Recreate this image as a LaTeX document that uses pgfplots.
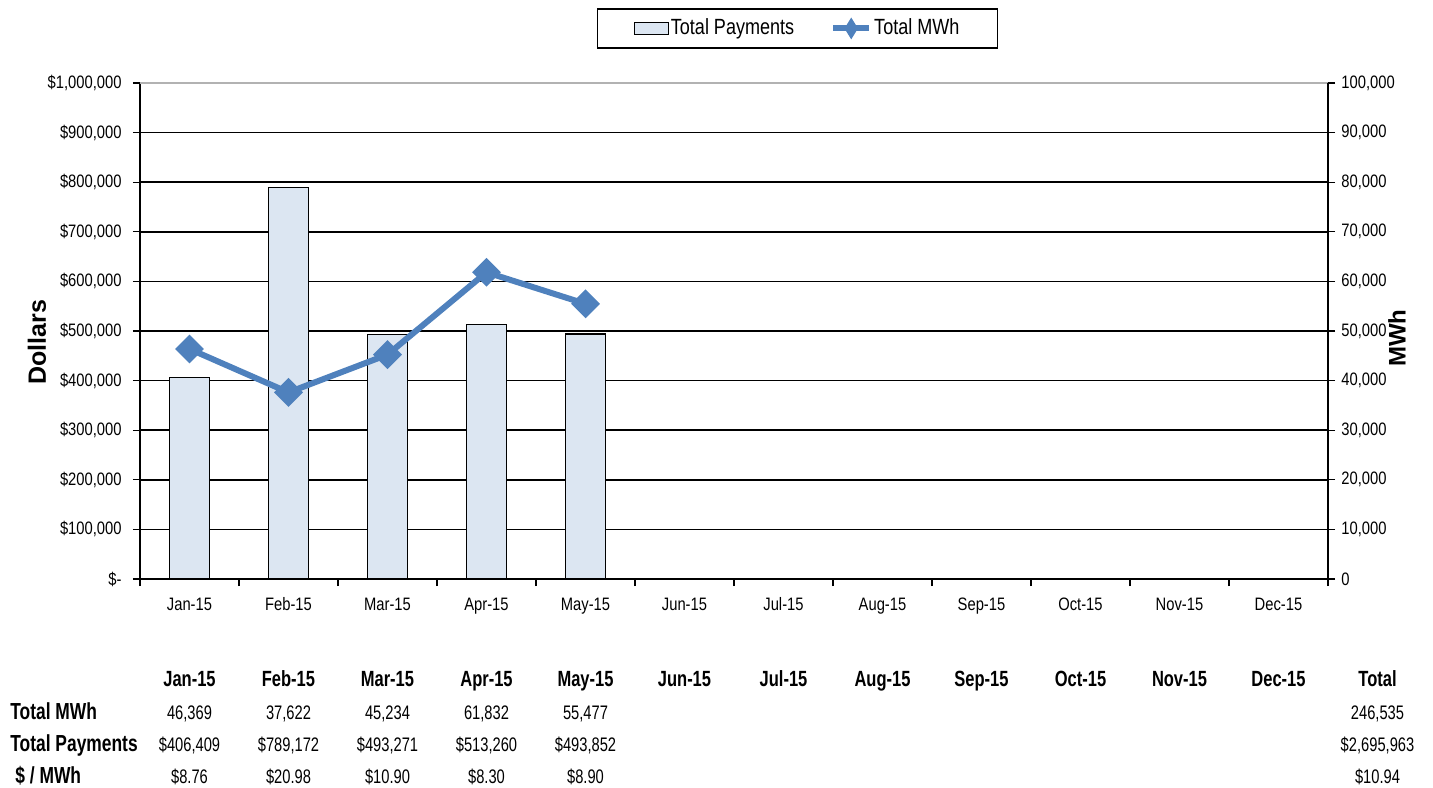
\documentclass[border=0pt]{standalone}
\usepackage{pgfplots}
\pgfplotsset{compat=1.18}
\usepackage{fontspec}
\setmainfont{Liberation Sans}[FakeStretch=0.82]
\newfontfamily\titlefont{Liberation Sans}
\newfontfamily\tbl{Liberation Sans}[FakeStretch=0.75]
\definecolor{barfill}{HTML}{DCE6F2}
\definecolor{linec}{HTML}{4F81BD}
\newcommand\tickfont{\fontsize{9}{11}\selectfont}
\newcommand\hdrfont{\tbl\bfseries\fontsize{11}{13}\selectfont}
\newcommand\valfont{\tbl\fontsize{9.8}{12}\selectfont}
\newcommand\rowfont{\tbl\bfseries\fontsize{11.6}{13}\selectfont}
\tikzset{hdr/.style={font=\hdrfont, anchor=base, inner sep=0pt, yshift=-53.75pt},
  rA/.style={font=\valfont, anchor=base, inner sep=0pt, yshift=-70pt},
  rB/.style={font=\valfont, anchor=base, inner sep=0pt, yshift=-86pt},
  rC/.style={font=\valfont, anchor=base, inner sep=0pt, yshift=-102pt}}
\begin{document}
\begin{tikzpicture}
\path[use as bounding box] (-70pt,-104pt) rectangle (646.5pt,289.5pt);
\begin{axis}[
  at={(0,0)}, anchor=south west, scale only axis,
  width=594pt, height=248pt,
  xmin=-0.5, xmax=11.5, ymin=0, ymax=1000000,
  clip=false, scaled y ticks=false,
  axis x line*=bottom, axis y line*=left,
  axis line style={-, black, line width=0.75pt},
  tick align=outside,
  xtick={-0.5,0.5,1.5,2.5,3.5,4.5,5.5,6.5,7.5,8.5,9.5,10.5,11.5},
  x tick label as interval,
  xticklabels={Jan-15,Feb-15,Mar-15,Apr-15,May-15,Jun-15,Jul-15,Aug-15,Sep-15,Oct-15,Nov-15,Dec-15},
  xticklabel style={font=\tickfont, anchor=base, inner sep=0pt, yshift=-12pt},
  x tick style={black, line width=0.6pt},
  major tick length=3.5pt,
  ytick={0,100000,200000,300000,400000,500000,600000,700000,800000,900000},
  yticklabels={\$-,{\$100,000},{\$200,000},{\$300,000},{\$400,000},{\$500,000},{\$600,000},{\$700,000},{\$800,000},{\$900,000}},
  extra y ticks={1000000},
  extra y tick labels={\$1{,}000{,}000},
  extra y tick style={major grid style={gray!60, line width=0.75pt}},
  yticklabel style={font=\tickfont, anchor=east, inner sep=0pt, xshift=-5.5pt},
  y tick style={black, line width=0.6pt},
  ymajorgrids,
  major grid style={black, line width=0.75pt},
  every axis y label/.style={at={(axis description cs:0,0.5)}, rotate=90, anchor=center, yshift=51.5pt, xshift=-5.5pt},
  ylabel={\titlefont\bfseries\fontsize{12.5}{14}\selectfont Dollars},
]
\addplot[ybar, bar width=20pt, fill=barfill, draw=black, line width=0.6pt]
  coordinates {(0,406409) (1,789172) (2,493271) (3,513260) (4,493852)};

% data table below the chart
\node[hdr] at (axis cs:0,0) {Jan-15};
\node[hdr] at (axis cs:1,0) {Feb-15};
\node[hdr] at (axis cs:2,0) {Mar-15};
\node[hdr] at (axis cs:3,0) {Apr-15};
\node[hdr] at (axis cs:4,0) {May-15};
\node[hdr] at (axis cs:5,0) {Jun-15};
\node[hdr] at (axis cs:6,0) {Jul-15};
\node[hdr] at (axis cs:7,0) {Aug-15};
\node[hdr] at (axis cs:8,0) {Sep-15};
\node[hdr] at (axis cs:9,0) {Oct-15};
\node[hdr] at (axis cs:10,0) {Nov-15};
\node[hdr] at (axis cs:11,0) {Dec-15};
\node[hdr] at (axis cs:12,0) {Total};

\node[font=\rowfont, anchor=base west, inner sep=0pt, xshift=-65pt, yshift=-70pt] at (axis cs:-0.5,0) {Total MWh};
\node[font=\rowfont, anchor=base west, inner sep=0pt, xshift=-65pt, yshift=-86pt] at (axis cs:-0.5,0) {Total Payments};
\node[font=\rowfont, anchor=base west, inner sep=0pt, xshift=-62.5pt, yshift=-102pt] at (axis cs:-0.5,0) {\$ / MWh};

\node[rA] at (axis cs:0,0) {46,369};
\node[rA] at (axis cs:1,0) {37,622};
\node[rA] at (axis cs:2,0) {45,234};
\node[rA] at (axis cs:3,0) {61,832};
\node[rA] at (axis cs:4,0) {55,477};
\node[rA] at (axis cs:12,0) {246,535};

\node[rB] at (axis cs:0,0) {\$406,409};
\node[rB] at (axis cs:1,0) {\$789,172};
\node[rB] at (axis cs:2,0) {\$493,271};
\node[rB] at (axis cs:3,0) {\$513,260};
\node[rB] at (axis cs:4,0) {\$493,852};
\node[rB] at (axis cs:12,0) {\$2,695,963};

\node[rC] at (axis cs:0,0) {\$8.76};
\node[rC] at (axis cs:1,0) {\$20.98};
\node[rC] at (axis cs:2,0) {\$10.90};
\node[rC] at (axis cs:3,0) {\$8.30};
\node[rC] at (axis cs:4,0) {\$8.90};
\node[rC] at (axis cs:12,0) {\$10.94};
\end{axis}

\begin{axis}[
  at={(0,0)}, anchor=south west, scale only axis,
  width=594pt, height=248pt,
  xmin=-0.5, xmax=11.5, ymin=0, ymax=100000,
  scaled y ticks=false,
  axis x line=none, axis y line*=right,
  axis line style={-, black, line width=0.75pt},
  tick align=outside, major tick length=3.5pt,
  ytick={0,10000,20000,30000,40000,50000,60000,70000,80000,90000,100000},
  yticklabels={0,{10,000},{20,000},{30,000},{40,000},{50,000},{60,000},{70,000},{80,000},{90,000},{100,000}},
  yticklabel style={font=\tickfont, anchor=west, inner sep=0pt, xshift=3pt},
  y tick style={black, line width=0.6pt},
  every axis y label/.style={at={(axis description cs:1,0.5)}, rotate=90, anchor=center, yshift=-34.5pt, xshift=-3.5pt},
  ylabel={\titlefont\bfseries\fontsize{12}{14}\selectfont MWh},
  legend columns=2,
  legend style={at={(0.5535,1.110)}, anchor=center, draw=black, line width=0.75pt,
    font=\fontsize{11}{13}\selectfont, inner xsep=18pt, inner ysep=4pt,
    /tikz/every even column/.append style={column sep=17pt},
    nodes={inner sep=1pt}},
]
\addlegendimage{legend image code/.code={\draw[fill=barfill, draw=black, line width=0.6pt] (0pt,-3pt) rectangle (17pt,3pt);}}
\addlegendentry{Total Payments}
\addplot[linec, line width=3pt, mark=square*, mark size=3.6pt, mark options={rotate=45, solid, fill=linec},
  legend image code/.code={\draw[linec, line width=3pt] (0pt,0pt)--(18pt,0pt); \fill[linec] (9pt,0pt) ++(0pt,2.6pt) -- ++(-1.6pt,-2.6pt) -- ++(1.6pt,-2.6pt) -- ++(1.6pt,2.6pt) -- cycle;}]
  coordinates {(0,46369) (1,37622) (2,45234) (3,61832) (4,55477)};
\addlegendentry{Total MWh}
\end{axis}
\end{tikzpicture}
\end{document}
